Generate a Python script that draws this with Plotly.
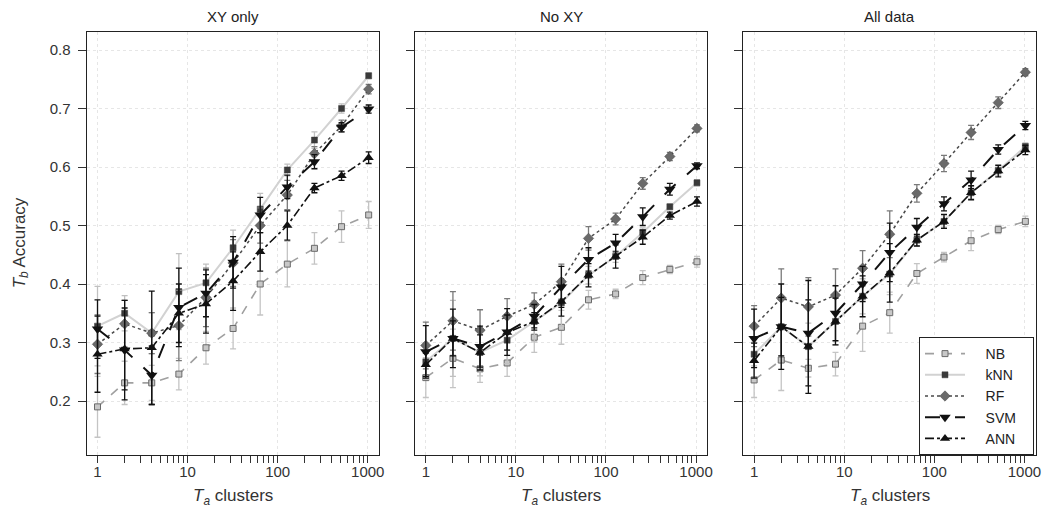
import plotly.graph_objects as go

clusters = [1, 2, 4, 8, 16, 32, 64, 128, 256, 512, 1024]
panel_titles = ["XY only", "No XY", "All data"]
models = ["NB", "kNN", "RF", "SVM", "ANN"]
x_tickvals = [1, 10, 100, 1000]
x_ticktext = ["1", "10", "100", "1000"]
x_minor = [2, 3, 4, 5, 6, 7, 8, 9, 20, 30, 40, 50, 60, 70, 80, 90,
           200, 300, 400, 500, 600, 700, 800, 900]
y_tickvals = [0.2, 0.3, 0.4, 0.5, 0.6, 0.7, 0.8]
y_ticktext = ["0.2", "0.3", "0.4", "0.5", "0.6", "0.7", "0.8"]
x_title = "<i>T</i><sub><i>a</i></sub> clusters"
y_title = "<i>T</i><sub><i>b</i></sub> Accuracy"

# ---- XY only ----
nb_xy = [0.190, 0.231, 0.231, 0.246, 0.291, 0.324, 0.400, 0.434, 0.461, 0.498, 0.518]
nb_xy_err = [0.052, 0.037, 0.030, 0.027, 0.028, 0.035, 0.053, 0.039, 0.027, 0.027, 0.023]
knn_xy = [0.328, 0.350, 0.316, 0.387, 0.402, 0.462, 0.528, 0.595, 0.646, 0.700, 0.756]
knn_xy_err = [0.068, 0.030, 0.035, 0.065, 0.032, 0.030, 0.027, 0.010, 0.014, 0.008, 0.005]
rf_xy = [0.297, 0.332, 0.316, 0.329, 0.377, 0.436, 0.500, 0.552, 0.623, 0.670, 0.733]
rf_xy_err = [0.050, 0.040, 0.035, 0.060, 0.050, 0.040, 0.030, 0.025, 0.012, 0.010, 0.008]
svm_xy = [0.323, 0.287, 0.244, 0.360, 0.384, 0.437, 0.518, 0.566, 0.609, 0.668, 0.699]
svm_xy_err = [0.050, 0.085, 0.050, 0.067, 0.040, 0.044, 0.030, 0.020, 0.012, 0.008, 0.007]
ann_xy = [0.280, 0.289, 0.291, 0.350, 0.366, 0.405, 0.455, 0.500, 0.564, 0.585, 0.616]
ann_xy_err = [0.065, 0.070, 0.097, 0.050, 0.050, 0.050, 0.033, 0.025, 0.008, 0.008, 0.010]

# ---- No XY ----
nb_noxy = [0.240, 0.273, 0.255, 0.265, 0.309, 0.326, 0.373, 0.383, 0.411, 0.425, 0.438]
nb_noxy_err = [0.034, 0.050, 0.023, 0.023, 0.026, 0.029, 0.016, 0.008, 0.012, 0.007, 0.009]
knn_noxy = [0.267, 0.307, 0.283, 0.304, 0.336, 0.368, 0.415, 0.447, 0.488, 0.532, 0.573]
knn_noxy_err = [0.030, 0.065, 0.040, 0.040, 0.035, 0.040, 0.015, 0.010, 0.008, 0.005, 0.005]
rf_noxy = [0.295, 0.337, 0.321, 0.345, 0.365, 0.404, 0.478, 0.511, 0.572, 0.618, 0.666]
rf_noxy_err = [0.040, 0.050, 0.035, 0.030, 0.020, 0.030, 0.020, 0.010, 0.010, 0.007, 0.006]
svm_noxy = [0.284, 0.307, 0.293, 0.318, 0.345, 0.395, 0.442, 0.470, 0.515, 0.562, 0.602]
svm_noxy_err = [0.045, 0.050, 0.035, 0.040, 0.020, 0.035, 0.020, 0.015, 0.015, 0.010, 0.005]
ann_noxy = [0.262, 0.307, 0.283, 0.317, 0.336, 0.370, 0.415, 0.447, 0.480, 0.517, 0.541]
ann_noxy_err = [0.020, 0.030, 0.030, 0.030, 0.015, 0.025, 0.020, 0.020, 0.012, 0.006, 0.008]

# ---- All data ----
nb_all = [0.236, 0.270, 0.256, 0.263, 0.328, 0.351, 0.418, 0.446, 0.474, 0.493, 0.507]
nb_all_err = [0.030, 0.052, 0.015, 0.020, 0.043, 0.035, 0.017, 0.008, 0.017, 0.007, 0.009]
knn_all = [0.280, 0.327, 0.293, 0.336, 0.379, 0.417, 0.475, 0.507, 0.556, 0.594, 0.635]
knn_all_err = [0.020, 0.050, 0.040, 0.040, 0.030, 0.035, 0.010, 0.010, 0.010, 0.008, 0.006]
rf_all = [0.328, 0.376, 0.361, 0.381, 0.427, 0.485, 0.555, 0.606, 0.659, 0.710, 0.762]
rf_all_err = [0.035, 0.050, 0.050, 0.045, 0.030, 0.040, 0.015, 0.014, 0.012, 0.010, 0.006]
svm_all = [0.307, 0.327, 0.316, 0.350, 0.400, 0.454, 0.497, 0.537, 0.578, 0.630, 0.671]
svm_all_err = [0.050, 0.073, 0.090, 0.047, 0.030, 0.050, 0.015, 0.012, 0.015, 0.008, 0.007]
ann_all = [0.269, 0.327, 0.293, 0.336, 0.379, 0.419, 0.475, 0.507, 0.556, 0.593, 0.629]
ann_all_err = [0.030, 0.050, 0.080, 0.040, 0.035, 0.050, 0.010, 0.012, 0.012, 0.010, 0.008]

panels = [
    [nb_xy, knn_xy, rf_xy, svm_xy, ann_xy],
    [nb_noxy, knn_noxy, rf_noxy, svm_noxy, ann_noxy],
    [nb_all, knn_all, rf_all, svm_all, ann_all],
]
panel_errs = [
    [nb_xy_err, knn_xy_err, rf_xy_err, svm_xy_err, ann_xy_err],
    [nb_noxy_err, knn_noxy_err, rf_noxy_err, svm_noxy_err, ann_noxy_err],
    [nb_all_err, knn_all_err, rf_all_err, svm_all_err, ann_all_err],
]

styles = {
    "NB": dict(line=dict(color="#a0a0a0", dash="dash", width=1.6),
               marker=dict(symbol="square", size=6, color="#c8c8c8",
                           line=dict(color="#6a6a6a", width=1)),
               err="#c4c4c4"),
    "kNN": dict(line=dict(color="#d2d2d2", dash="solid", width=2),
                marker=dict(symbol="square", size=6, color="#3a3a3a",
                            line=dict(color="#3a3a3a", width=0.5)),
                err="#c0c0c0"),
    "RF": dict(line=dict(color="#4a4a4a", dash="dot", width=1.5),
               marker=dict(symbol="diamond", size=8, color="#6a6a6a",
                           line=dict(color="#444444", width=0.5)),
               err="#7a7a7a"),
    "SVM": dict(line=dict(color="#111111", dash="longdash", width=2),
                marker=dict(symbol="triangle-down", size=10, color="#111111"),
                err="#111111"),
    "ANN": dict(line=dict(color="#111111", dash="dashdot", width=1.6),
                marker=dict(symbol="triangle-up", size=9, color="#111111"),
                err="#111111"),
}

W, H = 1048, 520
x_domains = [(86.7, 379.0), (415.0, 707.3), (743.3, 1035.7)]
y_top, y_bot = 31.7, 455.0
y_dom = [1 - y_bot / H, 1 - y_top / H]

fig = go.Figure()
font_family = "Liberation Sans, Arial, Helvetica, sans-serif"
nbsp = "\u00a0"

for p in range(3):
    sfx = "" if p == 0 else str(p + 1)
    for m, name in enumerate(models):
        st = styles[name]
        fig.add_trace(go.Scatter(
            x=clusters, y=panels[p][m],
            error_y=dict(type="data", array=panel_errs[p][m], color=st["err"],
                         thickness=1.3, width=3),
            mode="lines+markers", name=nbsp * 4 + name + nbsp * 3,
            line=st["line"], marker=st["marker"],
            xaxis="x" + sfx, yaxis="y" + sfx,
            showlegend=(p == 2), legendrank=m, legendgroup=name,
        ))
    d0, d1 = x_domains[p]
    fig.layout["xaxis" + sfx] = dict(
        type="log", domain=[d0 / W, d1 / W], range=[-0.12, 3.125],
        tickmode="array", tickvals=x_tickvals, ticktext=x_ticktext,
        ticks="outside", ticklen=7, tickcolor="#333", tickwidth=1,
        showline=True, linecolor="#222", linewidth=1.2, mirror=True,
        showgrid=True, gridcolor="#e6e6e6", griddash="dot", gridwidth=1,
        zeroline=False, anchor="y" + sfx, automargin=False,
        ticklabelstandoff=-4,
        tickfont=dict(size=15, color="#333", family=font_family),
        minor=dict(tickmode="array", tickvals=x_minor, ticks="outside",
                   ticklen=7, tickcolor="#333", showgrid=False),
    )
    fig.layout["yaxis" + sfx] = dict(
        domain=y_dom, range=[0.1077, 0.8313],
        tickmode="array", tickvals=y_tickvals, ticktext=y_ticktext,
        showticklabels=(p == 0),
        ticks="outside", ticklen=8, tickcolor="#333",
        showline=True, linecolor="#222", linewidth=1.2, mirror=True,
        showgrid=True, gridcolor="#e6e6e6", griddash="dot", gridwidth=1,
        zeroline=False, anchor="x" + sfx, automargin=False,
        ticklabelstandoff=4,
        tickfont=dict(size=15, color="#333", family=font_family),
    )
    fig.add_annotation(
        text=panel_titles[p], x=(d0 + d1) / 2 / W, y=1 - 16 / H,
        xref="paper", yref="paper", showarrow=False,
        xanchor="center", yanchor="middle",
        font=dict(size=15, color="#222", family=font_family),
    )
    fig.add_annotation(
        text=x_title, x=(d0 + d1) / 2 / W, y=1 - 497 / H,
        xref="paper", yref="paper", showarrow=False,
        xanchor="center", yanchor="middle",
        font=dict(size=17, color="#333", family=font_family),
    )

fig.add_annotation(
    text=y_title, x=21 / W, y=1 - (y_top + y_bot) / 2 / H,
    xref="paper", yref="paper", showarrow=False, textangle=-90,
    xanchor="center", yanchor="middle",
    font=dict(size=17, color="#333", family=font_family),
)

fig.update_layout(
    width=W, height=H,
    margin=dict(l=0, r=0, t=0, b=0),
    paper_bgcolor="white", plot_bgcolor="white",
    font=dict(family=font_family, color="#333"),
    legend=dict(
        x=919 / W, y=1 - 337 / H, xanchor="left", yanchor="top",
        bgcolor="white", bordercolor="#222", borderwidth=1,
        font=dict(size=14, color="#222", family=font_family),
        itemwidth=40, tracegroupgap=0,
    ),
)

fig.write_html(
    "out.html",
    config={"displayModeBar": False},
    post_script="document.body.style.margin='0px';document.body.style.overflow='hidden';",
)
